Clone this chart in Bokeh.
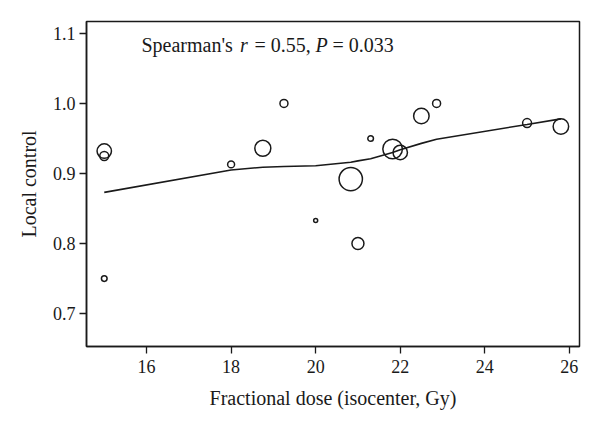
from bokeh.plotting import figure
from bokeh.models import Range1d, Label, FixedTicker, ColumnDataSource
from bokeh.embed import file_html
from bokeh.resources import INLINE
import numpy as np

# ---- data ----
dose = [15.0, 15.0, 15.0, 18.0, 18.75, 19.25, 20.0, 20.83, 21.0, 21.3, 21.82, 22.0, 22.5, 22.86, 25.0, 25.8]
local_control = [0.932, 0.925, 0.750, 0.913, 0.936, 1.000, 0.833, 0.892, 0.800, 0.950, 0.935, 0.930, 0.982, 1.000, 0.972, 0.967]
n_lesions = [13, 5, 2, 3, 16, 4, 1, 34, 9, 2, 24, 13, 15, 4, 5, 15]

fit_dose = [15.0, 18.0, 18.75, 19.25, 20.0, 20.83, 21.0, 21.3, 21.82, 22.0, 22.5, 22.86, 25.0, 25.8]
fit_lc = [0.873, 0.905, 0.909, 0.910, 0.911, 0.916, 0.918, 0.921, 0.930, 0.934, 0.943, 0.949, 0.970, 0.978]

x_ticks = [16, 18, 20, 22, 24, 26]
y_ticks = [0.7, 0.8, 0.9, 1.0, 1.1]
y_tick_labels = {0.7: "0.7", 0.8: "0.8", 0.9: "0.9", 1.0: "1.0", 1.1: "1.1"}

FONT = "Liberation Serif"
INK = "#1a1a1a"

p = figure(width=584, height=415, output_backend="svg", toolbar_location=None,
           x_range=Range1d(14.58, 26.24), y_range=Range1d(0.653, 1.117),
           min_border_left=86, min_border_right=5, min_border_top=21, min_border_bottom=69)

p.xgrid.visible = False
p.ygrid.visible = False
p.outline_line_color = INK
p.outline_line_width = 1.5
p.outline_line_alpha = 1.0

for ax in (p.xaxis[0], p.yaxis[0]):
    ax.axis_line_color = INK
    ax.axis_line_width = 1.5
    ax.major_tick_line_color = INK
    ax.major_tick_line_width = 1.3
    ax.major_tick_in = 0
    ax.major_tick_out = 7
    ax.minor_tick_line_color = None
    ax.major_label_text_font = FONT
    ax.major_label_text_font_size = "18px"
    ax.major_label_text_color = INK
    ax.axis_label_text_font = FONT
    ax.axis_label_text_font_size = "20px"
    ax.axis_label_text_font_style = "normal"
    ax.axis_label_text_color = INK

p.xaxis.ticker = FixedTicker(ticks=x_ticks)
p.yaxis.ticker = FixedTicker(ticks=y_ticks)
p.yaxis.major_label_overrides = y_tick_labels
p.xaxis.axis_label = "Fractional dose (isocenter, Gy)"
p.yaxis.axis_label = "Local control"
p.xaxis.major_label_standoff = 6
p.yaxis.major_label_standoff = 4
p.xaxis.axis_label_standoff = 11
p.yaxis.axis_label_standoff = 10

src = ColumnDataSource(dict(x=dose, y=local_control,
                            d=[4.0 * np.sqrt(n) for n in n_lesions]))
p.line(fit_dose, fit_lc, line_color=INK, line_width=1.6)
p.scatter("x", "y", size="d", source=src, marker="circle",
          fill_color=None, line_color=INK, line_width=1.5)

# annotation with italic r and P
pieces = [("Spearman's", "normal", 0.0),
          ("r", "italic", 98.5),
          ("= 0.55,", "normal", 113.0),
          ("P", "italic", 174.0),
          ("= 0.033", "normal", 191.0)]
for txt, style, off in pieces:
    p.add_layout(Label(x=15.88, y=1.084, x_offset=off, text=txt,
                       text_font=FONT, text_font_size="20px", text_font_style=style,
                       text_color=INK, text_baseline="alphabetic", text_align="left"))

open("out.html", "w").write(file_html(p, INLINE))
